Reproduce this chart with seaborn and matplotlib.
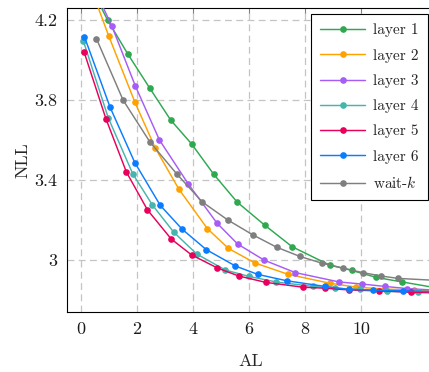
import numpy as np
import pandas as pd
import matplotlib
matplotlib.use("Agg")
import matplotlib.pyplot as plt
import seaborn as sns

# ---- data ----
l1_x = [0.30, 0.95, 1.67, 2.45, 3.20, 3.95, 4.73, 5.57, 6.55, 7.54, 8.87, 9.66, 10.54, 11.47, 12.55]
l1_y = [4.38, 4.199, 4.03, 3.86, 3.70, 3.58, 3.43, 3.29, 3.175, 3.066, 2.975, 2.948, 2.913, 2.890, 2.864]

l2_x = [0.30, 0.99, 1.92, 2.65, 3.49, 4.51, 5.26, 6.21, 7.40, 8.88, 9.83, 10.85, 11.89, 12.55]
l2_y = [4.38, 4.12, 3.79, 3.56, 3.355, 3.157, 3.058, 2.985, 2.928, 2.884, 2.864, 2.855, 2.849, 2.845]

l3_x = [0.40, 1.10, 1.94, 2.80, 3.83, 4.85, 5.59, 6.54, 7.65, 9.22, 10.02, 10.84, 11.65, 12.55]
l3_y = [4.38, 4.17, 3.87, 3.60, 3.38, 3.185, 3.08, 2.999, 2.937, 2.890, 2.880, 2.868, 2.857, 2.850]

l4_x = [0.08, 0.975, 1.85, 2.55, 3.31, 4.13, 5.15, 5.99, 6.97, 8.27, 9.07, 9.96, 10.94, 12.04, 12.55]
l4_y = [4.097, 3.71, 3.43, 3.275, 3.139, 3.03, 2.95, 2.918, 2.89, 2.868, 2.859, 2.853, 2.843, 2.839, 2.837]

l5_x = [0.11, 0.89, 1.62, 2.37, 3.22, 3.95, 4.87, 5.63, 6.60, 7.92, 8.71, 9.58, 10.62, 11.77, 12.55]
l5_y = [4.04, 3.706, 3.44, 3.251, 3.105, 3.025, 2.96, 2.92, 2.888, 2.864, 2.859, 2.850, 2.846, 2.839, 2.836]

l6_x = [0.12, 1.04, 1.92, 2.83, 3.61, 4.47, 5.51, 6.31, 7.35, 8.70, 9.55, 10.42, 11.50, 12.55]
l6_y = [4.117, 3.763, 3.487, 3.273, 3.154, 3.052, 2.97, 2.928, 2.896, 2.868, 2.853, 2.849, 2.846, 2.842]

wk_x = [0.55, 1.50, 2.46, 3.42, 4.33, 5.24, 6.13, 6.98, 7.81, 8.60, 9.34, 10.05, 10.71, 11.32, 12.55]
wk_y = [4.107, 3.80, 3.59, 3.43, 3.29, 3.20, 3.126, 3.064, 3.018, 2.984, 2.96, 2.937, 2.92, 2.908, 2.899]

series_names = ["layer 1", "layer 2", "layer 3", "layer 4", "layer 5", "layer 6", "wait-$k$"]
series_x = [l1_x, l2_x, l3_x, l4_x, l5_x, l6_x, wk_x]
series_y = [l1_y, l2_y, l3_y, l4_y, l5_y, l6_y, wk_y]
colors = ["#2fa84f", "#ffa200", "#a65cf5", "#46b5ae", "#e8005c", "#0a7dff", "#7f7f7f"]

x_ticks = [0, 2, 4, 6, 8, 10]
y_ticks = [3.0, 3.4, 3.8, 4.2]
y_tick_labels = ["3", "3.4", "3.8", "4.2"]

# ---- style ----
sns.set_style("white")
plt.rcParams["font.family"] = ["cmr10", "DejaVu Serif"]
plt.rcParams["mathtext.fontset"] = "cm"
plt.rcParams["axes.formatter.use_mathtext"] = True
plt.rcParams["axes.unicode_minus"] = False

fig = plt.figure(figsize=(4.29, 3.72), dpi=100)
ax = fig.add_axes([67 / 429, 1 - 312 / 372, (434 - 67) / 429, (312 - 8) / 372])

for name, xs, ys, c in zip(series_names, series_x, series_y, colors):
    df = pd.DataFrame({"AL": xs, "NLL": ys})
    sns.lineplot(data=df, x="AL", y="NLL", ax=ax, color=c, label=name,
                 marker="o", markersize=4.8, markeredgewidth=0, linewidth=1.05,
                 sort=False, estimator=None, zorder=3)

ax.set_xlim(-0.5, 12.6)
ax.set_ylim(2.74, 4.26)
ax.set_xticks(x_ticks)
ax.set_xticklabels([str(t) for t in x_ticks])
ax.set_yticks(y_ticks)
ax.set_yticklabels(y_tick_labels)

ax.grid(True, color="#c4c4c4", linestyle=(0, (5.5, 3.5)), linewidth=0.9, zorder=0)
ax.set_axisbelow(True)
for s in ax.spines.values():
    s.set_color("black")
    s.set_linewidth(0.8)
    s.set_visible(True)

ax.tick_params(axis="both", which="major", direction="in", length=3.5, width=0.8,
               color="#808080", top=True, right=True, labelsize=13, pad=7,
               labelcolor="#1a1a1a")

ax.set_xlabel("AL", fontsize=13, labelpad=12)
ax.set_ylabel("NLL", fontsize=13, labelpad=3)

leg = ax.legend(loc="upper right", bbox_to_anchor=(428 / 429, 1 - 14 / 372),
                bbox_transform=fig.transFigure, borderaxespad=0,
                fontsize=11, frameon=True, fancybox=False, framealpha=1,
                edgecolor="black", handlelength=2.95, handletextpad=0.5,
                labelspacing=0.74, borderpad=0.62)
leg.get_frame().set_linewidth(0.8)

fig.savefig("out.png", dpi=100)
